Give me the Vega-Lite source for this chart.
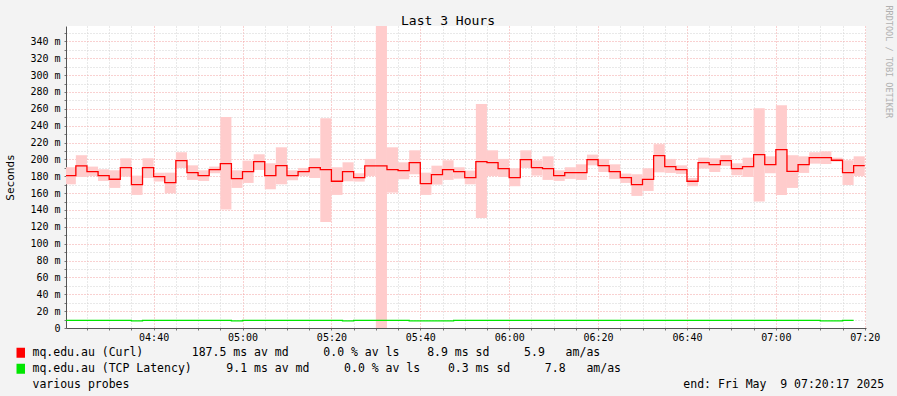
{
  "$schema": "https://vega.github.io/schema/vega-lite/v6.json",
  "width": 800,
  "height": 302,
  "autosize": "none",
  "padding": {"left": 66, "top": 26, "right": 31, "bottom": 68},
  "background": "#f3f3f3",
  "config": {
    "font": "DejaVu Sans Mono",
    "view": {"fill": "#ffffff", "stroke": null},
    "axis": {
      "labelFont": "DejaVu Sans Mono",
      "titleFont": "DejaVu Sans Mono",
      "labelColor": "#000000",
      "titleColor": "#000000",
      "titleFontWeight": "normal",
      "domainColor": "#555555",
      "tickColor": "#777777",
      "gridDash": [1, 2],
      "gridOpacity": 1,
      "gridWidth": 1,
      "labelFontSize": 10
    }
  },
  "title": {
    "text": "Last 3 Hours",
    "font": "DejaVu Sans Mono",
    "fontSize": 13,
    "fontWeight": "normal",
    "color": "#000000",
    "anchor": "middle",
    "frame": "group",
    "baseline": "alphabetic",
    "offset": 0,
    "dx": -18,
    "dy": 33
  },
  "data": {
    "format": {"parse": {"t0": "date", "t1": "date"}},
    "values": [
      {"t0": "2025-05-09T04:20:17Z", "t1": "2025-05-09T04:22:30Z", "med": 180.8, "lo": 170.5, "hi": 190.7, "tcp": 9.1},
      {"t0": "2025-05-09T04:22:30Z", "t1": "2025-05-09T04:25:00Z", "med": 192.3, "lo": 179.2, "hi": 205.0, "tcp": 9.1},
      {"t0": "2025-05-09T04:25:00Z", "t1": "2025-05-09T04:27:30Z", "med": 185.5, "lo": 180.4, "hi": 191.5, "tcp": 9.1},
      {"t0": "2025-05-09T04:27:30Z", "t1": "2025-05-09T04:30:00Z", "med": 180.8, "lo": 174.5, "hi": 188.3, "tcp": 9.1},
      {"t0": "2025-05-09T04:30:00Z", "t1": "2025-05-09T04:32:30Z", "med": 176.5, "lo": 166.2, "hi": 187.1, "tcp": 9.1},
      {"t0": "2025-05-09T04:32:30Z", "t1": "2025-05-09T04:35:00Z", "med": 190.3, "lo": 179.6, "hi": 201.3, "tcp": 9.1},
      {"t0": "2025-05-09T04:35:00Z", "t1": "2025-05-09T04:37:30Z", "med": 170.1, "lo": 157.9, "hi": 180.8, "tcp": 8.4},
      {"t0": "2025-05-09T04:37:30Z", "t1": "2025-05-09T04:40:00Z", "med": 190.3, "lo": 178.0, "hi": 201.3, "tcp": 9.1},
      {"t0": "2025-05-09T04:40:00Z", "t1": "2025-05-09T04:42:30Z", "med": 179.6, "lo": 173.7, "hi": 184.3, "tcp": 9.1},
      {"t0": "2025-05-09T04:42:30Z", "t1": "2025-05-09T04:45:00Z", "med": 172.5, "lo": 160.0, "hi": 184.3, "tcp": 9.1},
      {"t0": "2025-05-09T04:45:00Z", "t1": "2025-05-09T04:47:30Z", "med": 198.6, "lo": 189.9, "hi": 208.5, "tcp": 9.1},
      {"t0": "2025-05-09T04:47:30Z", "t1": "2025-05-09T04:50:00Z", "med": 184.3, "lo": 175.7, "hi": 193.0, "tcp": 9.1},
      {"t0": "2025-05-09T04:50:00Z", "t1": "2025-05-09T04:52:30Z", "med": 180.8, "lo": 174.5, "hi": 187.1, "tcp": 9.1},
      {"t0": "2025-05-09T04:52:30Z", "t1": "2025-05-09T04:55:00Z", "med": 187.9, "lo": 183.6, "hi": 191.5, "tcp": 9.1},
      {"t0": "2025-05-09T04:55:00Z", "t1": "2025-05-09T04:57:30Z", "med": 195.0, "lo": 140.5, "hi": 250.4, "tcp": 9.1},
      {"t0": "2025-05-09T04:57:30Z", "t1": "2025-05-09T05:00:00Z", "med": 177.2, "lo": 166.2, "hi": 187.1, "tcp": 8.4},
      {"t0": "2025-05-09T05:00:00Z", "t1": "2025-05-09T05:02:30Z", "med": 185.5, "lo": 172.1, "hi": 198.6, "tcp": 9.1},
      {"t0": "2025-05-09T05:02:30Z", "t1": "2025-05-09T05:05:00Z", "med": 197.4, "lo": 187.5, "hi": 206.1, "tcp": 9.1},
      {"t0": "2025-05-09T05:05:00Z", "t1": "2025-05-09T05:07:30Z", "med": 180.8, "lo": 164.6, "hi": 195.4, "tcp": 9.1},
      {"t0": "2025-05-09T05:07:30Z", "t1": "2025-05-09T05:10:00Z", "med": 192.6, "lo": 170.5, "hi": 214.4, "tcp": 9.1},
      {"t0": "2025-05-09T05:10:00Z", "t1": "2025-05-09T05:12:30Z", "med": 180.8, "lo": 175.3, "hi": 187.1, "tcp": 9.1},
      {"t0": "2025-05-09T05:12:30Z", "t1": "2025-05-09T05:15:00Z", "med": 185.5, "lo": 180.4, "hi": 189.9, "tcp": 9.1},
      {"t0": "2025-05-09T05:15:00Z", "t1": "2025-05-09T05:17:30Z", "med": 190.3, "lo": 178.0, "hi": 201.3, "tcp": 9.1},
      {"t0": "2025-05-09T05:17:30Z", "t1": "2025-05-09T05:20:00Z", "med": 187.9, "lo": 125.8, "hi": 248.8, "tcp": 9.1},
      {"t0": "2025-05-09T05:20:00Z", "t1": "2025-05-09T05:22:30Z", "med": 174.1, "lo": 157.9, "hi": 190.7, "tcp": 9.1},
      {"t0": "2025-05-09T05:22:30Z", "t1": "2025-05-09T05:25:00Z", "med": 185.5, "lo": 174.1, "hi": 196.6, "tcp": 8.4},
      {"t0": "2025-05-09T05:25:00Z", "t1": "2025-05-09T05:27:30Z", "med": 178.4, "lo": 173.7, "hi": 183.6, "tcp": 9.1},
      {"t0": "2025-05-09T05:27:30Z", "t1": "2025-05-09T05:30:00Z", "med": 192.3, "lo": 180.4, "hi": 200.6, "tcp": 9.1},
      {"t0": "2025-05-09T05:30:00Z", "t1": "2025-05-09T05:32:30Z", "med": 192.3, "lo": 0, "hi": 370, "tcp": 9.1},
      {"t0": "2025-05-09T05:32:30Z", "t1": "2025-05-09T05:35:00Z", "med": 187.9, "lo": 160.6, "hi": 214.4, "tcp": 9.1},
      {"t0": "2025-05-09T05:35:00Z", "t1": "2025-05-09T05:37:30Z", "med": 186.7, "lo": 176.5, "hi": 196.6, "tcp": 9.1},
      {"t0": "2025-05-09T05:37:30Z", "t1": "2025-05-09T05:40:00Z", "med": 196.2, "lo": 182.4, "hi": 210.8, "tcp": 8.4},
      {"t0": "2025-05-09T05:40:00Z", "t1": "2025-05-09T05:42:30Z", "med": 171.3, "lo": 157.9, "hi": 184.3, "tcp": 8.4},
      {"t0": "2025-05-09T05:42:30Z", "t1": "2025-05-09T05:45:00Z", "med": 182.0, "lo": 170.1, "hi": 192.6, "tcp": 8.4},
      {"t0": "2025-05-09T05:45:00Z", "t1": "2025-05-09T05:47:30Z", "med": 187.9, "lo": 175.7, "hi": 199.0, "tcp": 8.4},
      {"t0": "2025-05-09T05:47:30Z", "t1": "2025-05-09T05:50:00Z", "med": 185.5, "lo": 177.2, "hi": 190.7, "tcp": 9.1},
      {"t0": "2025-05-09T05:50:00Z", "t1": "2025-05-09T05:52:30Z", "med": 178.4, "lo": 170.5, "hi": 186.7, "tcp": 9.1},
      {"t0": "2025-05-09T05:52:30Z", "t1": "2025-05-09T05:55:00Z", "med": 197.4, "lo": 130.6, "hi": 265.8, "tcp": 9.1},
      {"t0": "2025-05-09T05:55:00Z", "t1": "2025-05-09T05:57:30Z", "med": 196.2, "lo": 180.4, "hi": 210.8, "tcp": 9.1},
      {"t0": "2025-05-09T05:57:30Z", "t1": "2025-05-09T06:00:00Z", "med": 189.1, "lo": 179.2, "hi": 200.6, "tcp": 9.1},
      {"t0": "2025-05-09T06:00:00Z", "t1": "2025-05-09T06:02:30Z", "med": 178.4, "lo": 168.2, "hi": 189.5, "tcp": 9.1},
      {"t0": "2025-05-09T06:02:30Z", "t1": "2025-05-09T06:05:00Z", "med": 199.8, "lo": 189.9, "hi": 210.8, "tcp": 9.1},
      {"t0": "2025-05-09T06:05:00Z", "t1": "2025-05-09T06:07:30Z", "med": 190.3, "lo": 180.8, "hi": 199.0, "tcp": 9.1},
      {"t0": "2025-05-09T06:07:30Z", "t1": "2025-05-09T06:10:00Z", "med": 189.1, "lo": 175.7, "hi": 203.7, "tcp": 9.1},
      {"t0": "2025-05-09T06:10:00Z", "t1": "2025-05-09T06:12:30Z", "med": 180.8, "lo": 174.5, "hi": 187.1, "tcp": 9.1},
      {"t0": "2025-05-09T06:12:30Z", "t1": "2025-05-09T06:15:00Z", "med": 184.3, "lo": 176.9, "hi": 190.7, "tcp": 9.1},
      {"t0": "2025-05-09T06:15:00Z", "t1": "2025-05-09T06:17:30Z", "med": 184.3, "lo": 175.7, "hi": 194.2, "tcp": 9.1},
      {"t0": "2025-05-09T06:17:30Z", "t1": "2025-05-09T06:20:00Z", "med": 199.8, "lo": 193.0, "hi": 205.7, "tcp": 9.1},
      {"t0": "2025-05-09T06:20:00Z", "t1": "2025-05-09T06:22:30Z", "med": 192.6, "lo": 185.1, "hi": 200.6, "tcp": 9.1},
      {"t0": "2025-05-09T06:22:30Z", "t1": "2025-05-09T06:25:00Z", "med": 185.5, "lo": 176.9, "hi": 194.2, "tcp": 9.1},
      {"t0": "2025-05-09T06:25:00Z", "t1": "2025-05-09T06:27:30Z", "med": 178.4, "lo": 172.1, "hi": 183.2, "tcp": 9.1},
      {"t0": "2025-05-09T06:27:30Z", "t1": "2025-05-09T06:30:00Z", "med": 170.1, "lo": 156.7, "hi": 182.4, "tcp": 9.1},
      {"t0": "2025-05-09T06:30:00Z", "t1": "2025-05-09T06:32:30Z", "med": 176.4, "lo": 162.6, "hi": 189.5, "tcp": 9.1},
      {"t0": "2025-05-09T06:32:30Z", "t1": "2025-05-09T06:35:00Z", "med": 204.5, "lo": 184.7, "hi": 218.1, "tcp": 9.1},
      {"t0": "2025-05-09T06:35:00Z", "t1": "2025-05-09T06:37:30Z", "med": 191.5, "lo": 184.0, "hi": 200.6, "tcp": 9.1},
      {"t0": "2025-05-09T06:37:30Z", "t1": "2025-05-09T06:40:00Z", "med": 187.9, "lo": 182.8, "hi": 193.0, "tcp": 9.1},
      {"t0": "2025-05-09T06:40:00Z", "t1": "2025-05-09T06:42:30Z", "med": 174.1, "lo": 168.2, "hi": 178.0, "tcp": 9.1},
      {"t0": "2025-05-09T06:42:30Z", "t1": "2025-05-09T06:45:00Z", "med": 196.2, "lo": 189.1, "hi": 202.1, "tcp": 9.1},
      {"t0": "2025-05-09T06:45:00Z", "t1": "2025-05-09T06:47:30Z", "med": 193.8, "lo": 185.1, "hi": 201.3, "tcp": 9.1},
      {"t0": "2025-05-09T06:47:30Z", "t1": "2025-05-09T06:50:00Z", "med": 198.6, "lo": 192.3, "hi": 205.0, "tcp": 9.1},
      {"t0": "2025-05-09T06:50:00Z", "t1": "2025-05-09T06:52:30Z", "med": 189.1, "lo": 181.2, "hi": 195.4, "tcp": 9.1},
      {"t0": "2025-05-09T06:52:30Z", "t1": "2025-05-09T06:55:00Z", "med": 191.5, "lo": 179.2, "hi": 202.1, "tcp": 9.1},
      {"t0": "2025-05-09T06:55:00Z", "t1": "2025-05-09T06:57:30Z", "med": 205.7, "lo": 150.0, "hi": 260.6, "tcp": 9.1},
      {"t0": "2025-05-09T06:57:30Z", "t1": "2025-05-09T07:00:00Z", "med": 193.8, "lo": 183.6, "hi": 203.7, "tcp": 9.1},
      {"t0": "2025-05-09T07:00:00Z", "t1": "2025-05-09T07:02:30Z", "med": 211.6, "lo": 157.9, "hi": 264.2, "tcp": 9.1},
      {"t0": "2025-05-09T07:02:30Z", "t1": "2025-05-09T07:05:00Z", "med": 185.9, "lo": 166.2, "hi": 205.0, "tcp": 9.1},
      {"t0": "2025-05-09T07:05:00Z", "t1": "2025-05-09T07:07:30Z", "med": 193.8, "lo": 184.0, "hi": 203.7, "tcp": 9.1},
      {"t0": "2025-05-09T07:07:30Z", "t1": "2025-05-09T07:10:00Z", "med": 202.1, "lo": 195.0, "hi": 208.5, "tcp": 9.1},
      {"t0": "2025-05-09T07:10:00Z", "t1": "2025-05-09T07:12:30Z", "med": 202.1, "lo": 194.6, "hi": 209.6, "tcp": 8.5},
      {"t0": "2025-05-09T07:12:30Z", "t1": "2025-05-09T07:15:00Z", "med": 199.0, "lo": 197.4, "hi": 202.1, "tcp": 8.5},
      {"t0": "2025-05-09T07:15:00Z", "t1": "2025-05-09T07:17:30Z", "med": 184.3, "lo": 169.7, "hi": 199.0, "tcp": 9.1},
      {"t0": "2025-05-09T07:17:30Z", "t1": "2025-05-09T07:20:00Z", "med": 192.6, "lo": 180.4, "hi": 203.7, "tcp": null}
    ]
  },
  "layer": [
    {
      "mark": {"type": "rect", "color": "#ffcccc", "clip": true},
      "encoding": {
        "x": {
          "field": "t0",
          "type": "temporal",
          "scale": {
            "type": "utc",
            "nice": false,
            "domain": [1746764417000, 1746775217000]
          },
          "axis": {
            "orient": "bottom",
            "title": null,
            "values": [1746764700000, 1746765000000, 1746765300000, 1746765600000, 1746765900000, 1746766200000, 1746766500000, 1746766800000, 1746767100000, 1746767400000, 1746767700000, 1746768000000, 1746768300000, 1746768600000, 1746768900000, 1746769200000, 1746769500000, 1746769800000, 1746770100000, 1746770400000, 1746770700000, 1746771000000, 1746771300000, 1746771600000, 1746771900000, 1746772200000, 1746772500000, 1746772800000, 1746773100000, 1746773400000, 1746773700000, 1746774000000, 1746774300000, 1746774600000, 1746774900000, 1746775200000],
            "grid": true,
            "gridColor": {"condition": {"test": "datum.value % 1200000 === 0", "value": "#f2a3a3"}, "value": "#d2d2d2"},
            "labelExpr": "datum.value % 1200000 === 0 ? utcFormat(datum.value, '%H:%M') : ''",
            "labelOverlap": false,
            "labelFlush": false,
            "labelBound": false,
            "labelPadding": 2,
            "tickSize": 2
          }
        },
        "x2": {"field": "t1"},
        "y": {
          "field": "lo",
          "type": "quantitative",
          "scale": {"domain": [0, 358.3], "nice": false, "zero": false},
          "axis": {
            "title": "Seconds",
            "titleFontSize": 11,
            "titleAngle": -90,
            "titleX": -56,
            "titleY": 151,
            "titleBaseline": "middle",
            "titleAlign": "center",
            "values": [0, 10, 20, 30, 40, 50, 60, 70, 80, 90, 100, 110, 120, 130, 140, 150, 160, 170, 180, 190, 200, 210, 220, 230, 240, 250, 260, 270, 280, 290, 300, 310, 320, 330, 340, 350],
            "labelExpr": "datum.value === 0 ? '0' : (datum.value % 20 === 0 ? datum.value + ' m' : '')",
            "labelOverlap": false,
            "labelBound": false,
            "labelFlush": false,
            "grid": true,
            "gridColor": {"condition": {"test": "datum.value % 20 === 0", "value": "#f2a3a3"}, "value": "#d2d2d2"},
            "tickSize": 2,
            "labelPadding": 4
          }
        },
        "y2": {"field": "hi"}
      }
    },
    {
      "transform": [
        {"fold": ["t0", "t1"], "as": ["edge", "time"]},
        {"fold": ["med", "tcp"], "as": ["series", "ms"]}
      ],
      "mark": {"type": "line", "strokeWidth": 1.3, "clip": true},
      "encoding": {
        "x": {"field": "time", "type": "temporal", "axis": null},
        "y": {
          "field": "ms",
          "type": "quantitative",
          "axis": {
            "orient": "right",
            "title": "RRDTOOL / TOBI OETIKER",
            "labels": false,
            "ticks": false,
            "grid": false,
            "domain": false,
            "titleAngle": 90,
            "titleX": 19,
            "titleY": -21,
            "titleAlign": "left",
            "titleBaseline": "alphabetic",
            "titleFontSize": 8.5,
            "titleColor": "#b0b0b0"
          }
        },
        "color": {
          "field": "series",
          "type": "nominal",
          "scale": {"domain": ["med", "tcp", "probes"], "range": ["#ff0000", "#00e600", "transparent"]},
          "legend": {
            "orient": "none",
            "legendX": -51,
            "legendY": 321,
            "direction": "vertical",
            "title": null,
            "padding": 0,
            "labelFont": "DejaVu Sans Mono",
            "labelFontSize": 11.5,
            "labelColor": "#000000",
            "labelLimit": 1000,
            "labelOffset": 6,
            "rowPadding": 1,
            "symbolType": "M-1,-1H1M-1,-0.8H1M-1,-0.6H1M-1,-0.4H1M-1,-0.2H1M-1,0H1M-1,0.2H1M-1,0.4H1M-1,0.6H1M-1,0.8H1M-1,1H1",
            "symbolSize": 72,
            "symbolStrokeWidth": 1.3,
            "symbolOpacity": 1,
            "labelExpr": "datum.value === 'med' ? 'mq.edu.au (Curl)\u00a0\u00a0\u00a0\u00a0\u00a0\u00a0\u00a0187.5 ms av md\u00a0\u00a0\u00a0\u00a0\u00a00.0 % av ls\u00a0\u00a0\u00a0\u00a08.9 ms sd\u00a0\u00a0\u00a0\u00a0\u00a05.9\u00a0\u00a0\u00a0am/as' : (datum.value === 'tcp' ? 'mq.edu.au (TCP Latency)\u00a0\u00a0\u00a0\u00a0\u00a09.1 ms av md\u00a0\u00a0\u00a0\u00a0\u00a00.0 % av ls\u00a0\u00a0\u00a0\u00a00.3 ms sd\u00a0\u00a0\u00a0\u00a0\u00a07.8\u00a0\u00a0\u00a0am/as' : 'various probes\u00a0\u00a0\u00a0\u00a0\u00a0\u00a0\u00a0\u00a0\u00a0\u00a0\u00a0\u00a0\u00a0\u00a0\u00a0\u00a0\u00a0\u00a0\u00a0\u00a0\u00a0\u00a0\u00a0\u00a0\u00a0\u00a0\u00a0\u00a0\u00a0\u00a0\u00a0\u00a0\u00a0\u00a0\u00a0\u00a0\u00a0\u00a0\u00a0\u00a0\u00a0\u00a0\u00a0\u00a0\u00a0\u00a0\u00a0\u00a0\u00a0\u00a0\u00a0\u00a0\u00a0\u00a0\u00a0\u00a0\u00a0\u00a0\u00a0\u00a0\u00a0\u00a0\u00a0\u00a0\u00a0\u00a0\u00a0\u00a0\u00a0\u00a0\u00a0\u00a0\u00a0\u00a0\u00a0\u00a0\u00a0\u00a0\u00a0\u00a0end: Fri May\u00a0\u00a09 07:20:17 2025')"
          }
        },
        "order": [
          {"field": "time", "type": "temporal"},
          {"field": "edge", "sort": "descending"}
        ]
      }
    }
  ],
  "resolve": {"axis": {"x": "independent", "y": "independent"}}
}
